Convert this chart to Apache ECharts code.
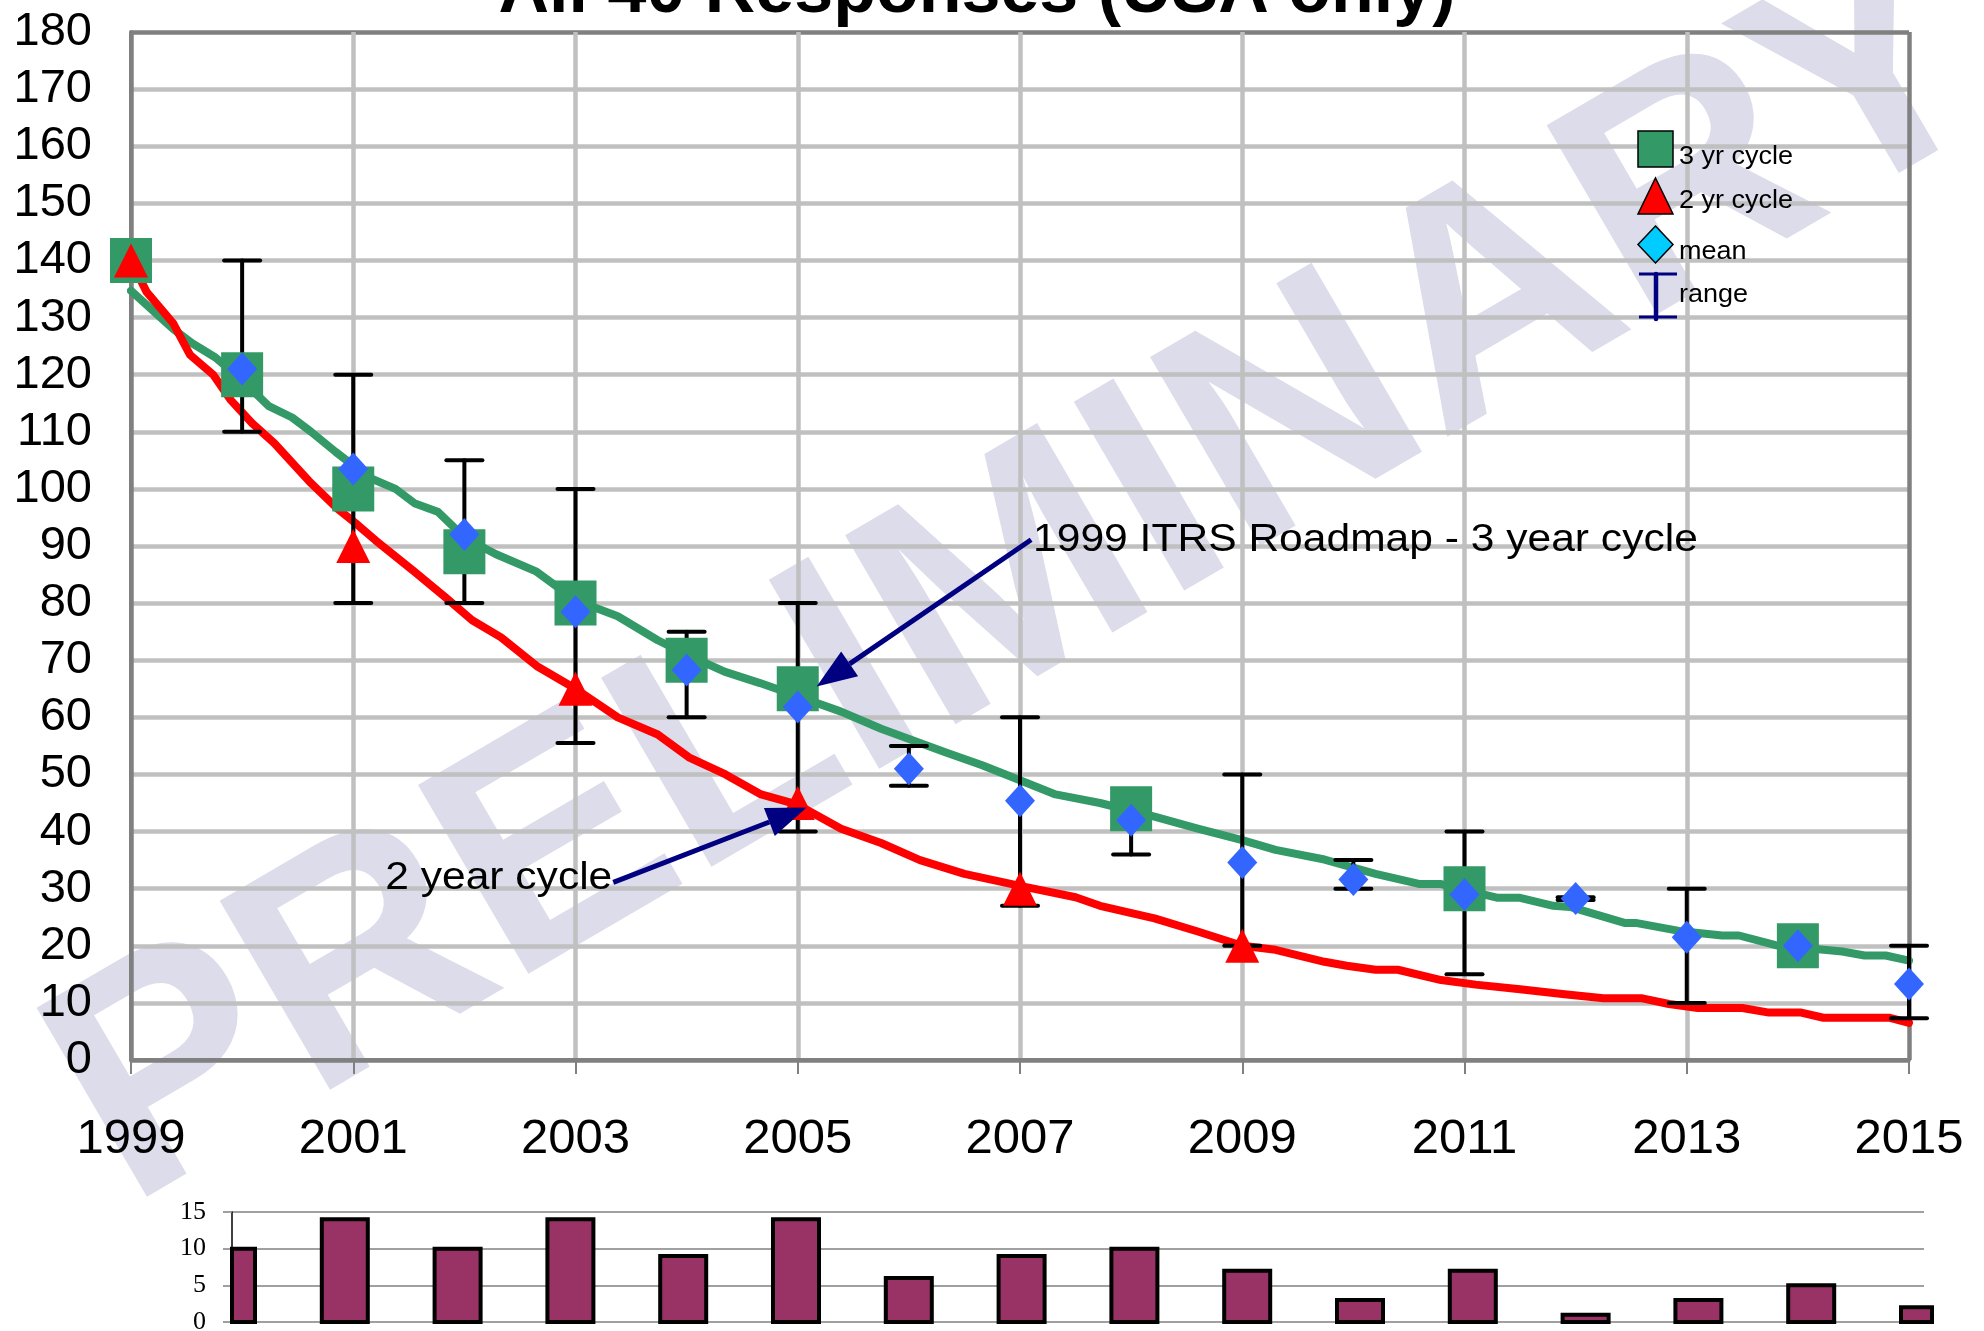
<!DOCTYPE html>
<html>
<head>
<meta charset="utf-8">
<title>All 40 Responses</title>
<script src="https://cdn.jsdelivr.net/npm/echarts/dist/echarts.min.js"></script>
<style>
  html, body { margin: 0; padding: 0; background: #ffffff; }
  #chart { width: 1984px; height: 1331px; }
</style>
</head>
<body>
<div id="chart"></div>
<script>
// ---- data ----------------------------------------------------------------
const baseYear = 1999;
const titleText = 'All 40 Responses (USA only)';

// 1999 ITRS roadmap trend, 3 year cycle (sampled along the curve)
const trend3Years = [1999.00,1999.38,1999.55,1999.76,2000.00,2000.24,2000.45,2000.62,2000.84,2001.14,2001.38,2001.55,2001.76,2002.00,2002.28,2002.65,2003.00,2003.38,2003.74,2004.00,2004.34,2004.66,2005.00,2005.39,2005.75,2006.10,2006.34,2006.66,2007.00,2007.32,2007.72,2008.21,2008.60,2009.00,2009.30,2009.74,2010.20,2010.60,2010.79,2011.00,2011.30,2011.50,2011.80,2011.95,2012.44,2012.54,2012.93,2013.32,2013.47,2013.80,2014.40,2014.60,2014.79,2015.00];
const trend3Values = [134.7,128,125.5,123,119,114.5,112.5,110,106.5,102,100,97.5,96,91.5,88.6,85.5,80.5,77.7,73.5,71,68,66,63.7,61,58,55.5,53.8,51.6,49,46.5,45,42.6,40.5,38.5,36.8,35.1,32.6,30.8,30.8,29.8,28.4,28.4,27,26.8,24,24,22.6,21.8,21.8,20.1,19,18.3,18.3,17.4];

// 2 year cycle trend (sampled along the curve)
const trend2Years = [1999.00,1999.14,1999.38,1999.53,1999.74,1999.90,2000.09,2000.29,2000.62,2000.86,2001.02,2001.20,2001.55,2001.83,2002.07,2002.33,2002.65,2003.00,2003.38,2003.74,2004.02,2004.35,2004.67,2005.00,2005.39,2005.75,2006.10,2006.50,2007.00,2007.50,2007.72,2008.21,2008.60,2009.00,2009.30,2009.74,2009.94,2010.20,2010.40,2010.79,2011.10,2011.50,2011.90,2012.25,2012.60,2012.84,2013.10,2013.50,2013.74,2014.03,2014.23,2014.82,2015.00];
const trend2Values = [140,134.5,129,123.5,120,115.5,111.5,108,101,96.5,94,91,85.5,81,77,74,69,65,60,57,53,50,46.5,44.7,40.5,38,35,32.6,30.5,28.5,27,24.8,22.5,20,19.3,17.2,16.5,15.8,15.8,14,13.2,12.4,11.5,10.8,10.8,9.8,9.1,9.1,8.3,8.3,7.4,7.4,6.5];

// roadmap nodes
const cycle3Years = [1999, 2000, 2001, 2002, 2003, 2004, 2005, 2008, 2011, 2014];
const cycle3Values = [140, 120, 100, 89, 80, 70, 65, 44, 30, 20];
const cycle2Years = [1999, 2001, 2003, 2005, 2007, 2009];
const cycle2Values = [140, 90, 65, 45, 30, 20];

// survey responses: mean and range per year
const surveyYears = [2000, 2001, 2002, 2003, 2004, 2005, 2006, 2007, 2008, 2009, 2010, 2011, 2012, 2013, 2014, 2015];
const meanValues  = [121, 103.5, 92, 78.5, 68.3, 61.8, 51, 45.4, 42, 34.6, 31.6, 29, 28.3, 21.5, 20, 13.3];
const rangeLow    = [110, 80, 80, 55.5, 60, 40, 48, 27, 36, 20, 30, 15, 28, 10, null, 7.3];
const rangeHigh   = [140, 120, 105, 100, 75, 80, 55, 60, 45, 50, 35, 40, 28.5, 30, null, 20];

// number of responses per year
const responseCounts = [10, 14, 10, 14, 9, 14, 6, 9, 10, 7, 3, 7, 1, 3, 5, 2];

// annotation arrows: [start year, start value] -> [tip year, tip value]
const roadmapArrow = { text: '1999 ITRS Roadmap - 3 year cycle', from: [2007.10, 91.1], to: [2005.17, 65.4] };
const twoYearArrow = { text: '2 year cycle', from: [2003.34, 31.1], to: [2005.08, 44.2] };

// legend entries
const legendLabels = ['3 yr cycle', '2 yr cycle', 'mean', 'range'];

// ---- helpers ---------------------------------------------------------------
const SANS = '"Liberation Sans", Arial, Helvetica, sans-serif';
const SERIF = '"Liberation Serif", "Times New Roman", serif';
const pairs = (xs, ys) => xs.map((x, i) => [x - baseYear, ys[i]]);

const ySplitColors = [];
for (let v = 0; v <= 180; v += 10) ySplitColors.push(v === 0 || v === 180 ? '#808080' : '#C0C0C0');
const xSplitColors = [];
for (let v = 0; v <= 16; v += 2) xSplitColors.push(v === 0 || v === 16 ? '#808080' : '#C0C0C0');

const rangeData = [];
surveyYears.forEach((y, i) => {
  if (rangeLow[i] != null) rangeData.push([y - baseYear, rangeLow[i], rangeHigh[i]]);
});
const countData = responseCounts.map((c, i) => [i, c]);

const chart = echarts.init(document.getElementById('chart'), null, { renderer: 'canvas' });

chart.setOption({
  backgroundColor: '#ffffff',
  animation: false,
  grid: [
    { left: 131, right: 75, top: 32, bottom: 271, show: false, outerBoundsMode: 'none' },
    { left: 232, right: 60, top: 1212, bottom: 9, show: false, outerBoundsMode: 'none' }
  ],
  xAxis: [
    {
      type: 'value', gridIndex: 0, min: 0, max: 16, interval: 2,
      axisLine: { show: true, onZero: false, lineStyle: { color: '#808080', width: 4 } },
      axisTick: { show: true, length: 14, lineStyle: { color: '#808080', width: 2 } },
      axisLabel: { fontFamily: SANS, fontSize: 49, color: '#000', margin: 55,
                   formatter: v => String(v + baseYear) },
      splitLine: { show: true, lineStyle: { color: xSplitColors, width: 4.5 } }
    },
    {
      type: 'category', gridIndex: 1, boundaryGap: false,
      data: surveyYears.map(String),
      axisLine: { show: false }, axisTick: { show: false },
      axisLabel: { show: false }, splitLine: { show: false }
    }
  ],
  yAxis: [
    {
      type: 'value', gridIndex: 0, min: 0, max: 180, interval: 10,
      axisLine: { show: true, lineStyle: { color: '#808080', width: 4 } },
      axisTick: { show: false },
      axisLabel: { fontFamily: SANS, fontSize: 47, color: '#000', margin: 39 },
      splitLine: { show: true, lineStyle: { color: ySplitColors, width: 4.5 } }
    },
    {
      type: 'value', gridIndex: 1, min: 0, max: 15, interval: 5,
      axisLine: { show: true, lineStyle: { color: '#000', width: 1.5 } },
      axisTick: { show: true, length: 9, lineStyle: { color: '#808080', width: 1.5 } },
      axisLabel: { fontFamily: SERIF, fontSize: 26, color: '#000', margin: 26 },
      splitLine: { show: true, lineStyle: { color: '#808080', width: 1.5 } }
    }
  ],
  series: [
    {
      name: '3 yr trend', type: 'line', xAxisIndex: 0, yAxisIndex: 0, z: 2,
      data: pairs(trend3Years, trend3Values), symbol: 'none', clip: false,
      lineStyle: { color: '#339966', width: 8, join: 'round', cap: 'round' }
    },
    {
      name: '2 yr trend', type: 'line', xAxisIndex: 0, yAxisIndex: 0, z: 2,
      data: pairs(trend2Years, trend2Values), symbol: 'none', clip: false,
      lineStyle: { color: '#FF0000', width: 8, join: 'round', cap: 'round' }
    },
    {
      name: 'range', type: 'custom', xAxisIndex: 0, yAxisIndex: 0, z: 3,
      data: rangeData, encode: { x: 0, y: [1, 2] }, clip: false,
      renderItem: function (params, api) {
        const x = api.value(0);
        const lo = api.coord([x, api.value(1)]);
        const hi = api.coord([x, api.value(2)]);
        const half = 18;
        const st = { stroke: '#000', lineWidth: 4, lineCap: 'round' };
        return {
          type: 'group',
          children: [
            { type: 'line', shape: { x1: lo[0], y1: lo[1], x2: hi[0], y2: hi[1] }, style: st },
            { type: 'line', shape: { x1: lo[0] - half, y1: lo[1], x2: lo[0] + half, y2: lo[1] }, style: st },
            { type: 'line', shape: { x1: hi[0] - half, y1: hi[1], x2: hi[0] + half, y2: hi[1] }, style: st }
          ]
        };
      }
    },
    {
      name: '3 yr cycle', type: 'scatter', xAxisIndex: 0, yAxisIndex: 0, z: 4, clip: false,
      data: pairs(cycle3Years, cycle3Values), symbol: 'rect', symbolSize: [42, 45],
      itemStyle: { color: '#339966', opacity: 1 }
    },
    {
      name: '2 yr cycle', type: 'scatter', xAxisIndex: 0, yAxisIndex: 0, z: 5, clip: false,
      data: pairs(cycle2Years, cycle2Values), symbol: 'triangle', symbolSize: [34, 34],
      itemStyle: { color: '#FF0000', opacity: 1 }
    },
    {
      name: 'mean', type: 'scatter', xAxisIndex: 0, yAxisIndex: 0, z: 6, clip: false,
      data: pairs(surveyYears, meanValues), symbol: 'diamond', symbolSize: [30, 33],
      itemStyle: { color: '#3366FF', opacity: 1 }
    },
    {
      // response counts: bars centred on each category, trimmed at the plot's left/right edges
      name: 'responses', type: 'custom', xAxisIndex: 1, yAxisIndex: 1, z: 2,
      data: countData, encode: { x: 0, y: 1 },
      renderItem: function (params, api) {
        const top = api.coord([api.value(0), api.value(1)]);
        const base = api.coord([api.value(0), 0]);
        const w = 46;
        const cs = params.coordSys;
        const rect = echarts.graphic.clipRectByRect(
          { x: top[0] - w / 2, y: top[1], width: w, height: base[1] - top[1] },
          { x: cs.x, y: cs.y - 10, width: cs.width + 8, height: cs.height + 20 }
        );
        if (!rect) return null;
        return {
          type: 'rect', shape: rect,
          style: { fill: '#993366', stroke: '#000', lineWidth: 4 }
        };
      }
    }
  ]
});

// ---- overlay: watermark, title, legend, annotations ------------------------
const toPx = p => chart.convertToPixel({ gridIndex: 0 }, [p[0] - baseYear, p[1]]);

function arrowShapes(from, tip, headLen, headWidth) {
  const dx = tip[0] - from[0], dy = tip[1] - from[1];
  const len = Math.hypot(dx, dy);
  const ux = dx / len, uy = dy / len;
  const bx = tip[0] - ux * headLen, by = tip[1] - uy * headLen;
  const nx = -uy, ny = ux;
  return [
    { type: 'line', z: 20, shape: { x1: from[0], y1: from[1], x2: bx, y2: by },
      style: { stroke: '#000080', lineWidth: 5 } },
    { type: 'polygon', z: 20,
      shape: { points: [tip, [bx + nx * headWidth / 2, by + ny * headWidth / 2], [bx - nx * headWidth / 2, by - ny * headWidth / 2]] },
      style: { fill: '#000080' } }
  ];
}

const a1From = toPx(roadmapArrow.from), a1To = toPx(roadmapArrow.to);
const a2From = toPx(twoYearArrow.from), a2To = toPx(twoYearArrow.to);

const legendX = 1638, legendText = 1679;
const graphics = [
  // watermark
  { type: 'text', z: -1, x: 1025, y: 582, rotation: 30.3 * Math.PI / 180, silent: true,
    style: { text: 'PRELIMINARY', font: 'bold 318px ' + SANS, fill: '#DCDCEA',
             align: 'center', verticalAlign: 'middle' } },
  // title
  { type: 'text', z: 20, x: 977, y: -7,
    style: { text: titleText, font: 'bold 70px ' + SANS, fill: '#000',
             align: 'center', verticalAlign: 'middle' } },
  // legend symbols
  { type: 'rect', z: 20, shape: { x: legendX, y: 131, width: 35, height: 36 },
    style: { fill: '#339966', stroke: '#000', lineWidth: 1.5 } },
  { type: 'polygon', z: 20, shape: { points: [[legendX + 17.5, 178], [legendX + 35, 214], [legendX, 214]] },
    style: { fill: '#FF0000', stroke: '#000', lineWidth: 1.5 } },
  { type: 'polygon', z: 20, shape: { points: [[legendX + 17.5, 226], [legendX + 35, 244.5], [legendX + 17.5, 263], [legendX, 244.5]] },
    style: { fill: '#00CCFF', stroke: '#000', lineWidth: 1.5 } },
  { type: 'line', z: 20, shape: { x1: legendX + 18, y1: 274, x2: legendX + 18, y2: 319 },
    style: { stroke: '#000080', lineWidth: 4.5, lineCap: 'round' } },
  { type: 'line', z: 20, shape: { x1: legendX + 1, y1: 274, x2: legendX + 39, y2: 274 },
    style: { stroke: '#000080', lineWidth: 3 } },
  { type: 'line', z: 20, shape: { x1: legendX + 1, y1: 317, x2: legendX + 39, y2: 317 },
    style: { stroke: '#000080', lineWidth: 3 } }
];
[157, 201, 252, 295].forEach((y, i) => {
  graphics.push({ type: 'text', z: 20, x: legendText, y: y, scaleX: 1.08,
    style: { text: legendLabels[i], font: '25px ' + SANS, fill: '#000', align: 'left', verticalAlign: 'middle' } });
});
// annotations
graphics.push(...arrowShapes(a1From, a1To, 40, 30));
graphics.push(...arrowShapes(a2From, a2To, 40, 30));
graphics.push({ type: 'text', z: 20, x: a1From[0] + 2, y: a1From[1] + 1, scaleX: 1.12,
  style: { text: roadmapArrow.text, font: '38px ' + SANS, fill: '#000', align: 'left', verticalAlign: 'middle' } });
graphics.push({ type: 'text', z: 20, x: a2From[0] - 1, y: a2From[1] - 4, scaleX: 1.12,
  style: { text: twoYearArrow.text, font: '38px ' + SANS, fill: '#000', align: 'right', verticalAlign: 'middle' } });

chart.setOption({ graphic: { elements: graphics } });
</script>
</body>
</html>
